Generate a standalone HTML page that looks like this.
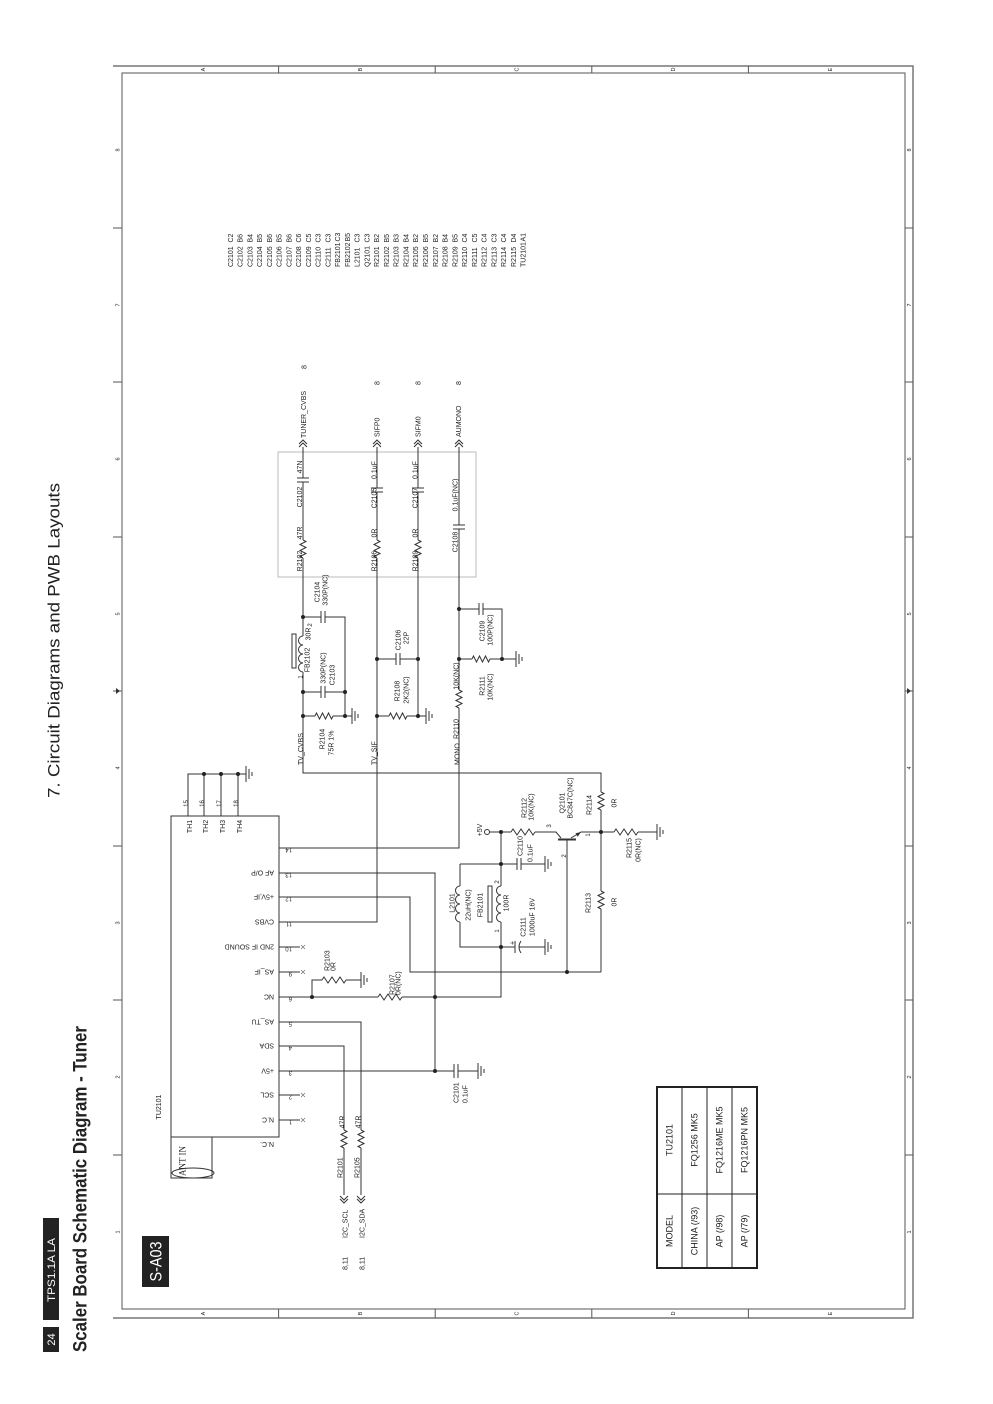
<!DOCTYPE html>
<html><head><meta charset="utf-8"><style>
html,body{margin:0;padding:0;background:#fff;}
svg{display:block;}
text{font-family:"Liberation Sans",Arial,sans-serif;fill:#222;}
.s7{font-size:7px;}
.s6{font-size:6px;}
.s5{font-size:5.5px;fill:#444;}
</style></head><body>
<svg width="993" height="1404" viewBox="0 0 993 1404" xmlns="http://www.w3.org/2000/svg">
<rect width="993" height="1404" fill="#fff"/>

<!-- FRAME -->
<g fill="none" stroke="#555" stroke-width="1">
<path d="M113,66H913V1318H113" stroke="#777" stroke-width="1.5"/>
<path d="M122,73H905V1309H122Z"/>
<path d="M278.6,66V73M435.2,66V73M591.8,66V73M748.4,66V73M278.6,1309V1318M435.2,1309V1318M591.8,1309V1318M748.4,1309V1318"/>
<path d="M113,228H122M113,382H122M113,537H122M113,691H122M113,846H122M113,1000H122M113,1155H122"/>
<path d="M905,228H913M905,382H913M905,537H913M905,691H913M905,846H913M905,1000H913M905,1155H913"/>
</g>
<polygon points="116,688 120,691 116,694" fill="#333"/>
<polygon points="907,688 911,691 907,694" fill="#333"/>

<!-- dashed box -->
<rect x="278" y="452" width="198" height="125" fill="none" stroke="#bbb" stroke-width="1"/>

<!-- TU2101 box -->
<g fill="none" stroke="#333" stroke-width="1">
<rect x="171" y="816" width="108" height="321"/>
<rect x="171" y="1137" width="41" height="41"/>
<ellipse cx="193" cy="1173" rx="21" ry="5"/>
</g>

<!-- WIRES -->
<g fill="none" stroke="#333" stroke-width="1">
<path d="M303,447V478M297,478H309M297,482H309M303,482V540"/>
<path d="M303,540l3,1.5l-6,3l6,3l-6,3l6,3l-6,3l3,1.5"/>
<path d="M303,558V636"/>
<path d="M303,636a4.5,4.5 0 0 0 0,9a4.5,4.5 0 0 0 0,9a4.5,4.5 0 0 0 0,9a4.5,4.5 0 0 0 0,9"/>
<path d="M303,672V773H601V792"/>
<path d="M601,792l3,1.5l-6,3l6,3l-6,3l6,3l-6,3l3,1.5"/>
<path d="M601,810V891"/>
<path d="M601,891l3,1.5l-6,3l6,3l-6,3l6,3l-6,3l3,1.5"/>
<path d="M601,909V972"/>
<path d="M377,447V488M371,488H383M371,492H383M377,492V540"/>
<path d="M377,540l3,1.5l-6,3l6,3l-6,3l6,3l-6,3l3,1.5"/>
<path d="M377,558V922H279"/>
<path d="M418,447V488M412,488H424M412,492H424M418,492V540"/>
<path d="M418,540l3,1.5l-6,3l6,3l-6,3l6,3l-6,3l3,1.5"/>
<path d="M418,558V716"/>
<path d="M459,447V525M453,525H465M453,529H465M459,529V690"/>
<path d="M459,690l3,1.5l-6,3l6,3l-6,3l6,3l-6,3l3,1.5"/>
<path d="M459,708V848H279"/>
<path d="M299,447L303,443L307,447M299,444L303,440L307,444"/>
<path d="M373,447L377,443L381,447M373,444L377,440L381,444"/>
<path d="M414,447L418,443L422,447M414,444L418,440L422,444"/>
<path d="M455,447L459,443L463,447M455,444L459,440L463,444"/>
<path d="M303,617H321M321,611V623M325,611V623M325,617H345V716"/>
<path d="M303,692H321M321,686V698M325,686V698M325,692H345"/>
<path d="M303,716H315"/>
<path d="M315,716l1.5,-3l3,6l3,-6l3,6l3,-6l3,6l1.5,-3"/>
<path d="M333,716H352"/>
<path d="M377,659H396M396,653V665M400,653V665M400,659H418"/>
<path d="M377,716H389"/>
<path d="M389,716l1.5,-3l3,6l3,-6l3,6l3,-6l3,6l1.5,-3"/>
<path d="M407,716H426"/>
<path d="M459,609H479M479,603V615M483,603V615M483,609H502V659"/>
<path d="M459,659H472"/>
<path d="M472,659l1.5,-3l3,6l3,-6l3,6l3,-6l3,6l1.5,-3"/>
<path d="M490,659H516"/>
<path d="M279,873H435V1071"/>
<path d="M279,897H410V972H601"/>
<path d="M279,947H300M279,972H300M279,1095H300M279,1120H300"/>
<path d="M279,997H378"/>
<path d="M378,997l2,-3l4,6l4,-6l4,6l4,-6l4,6l2,-3"/>
<path d="M402,997H501V922"/>
<path d="M312,997V980H322"/>
<path d="M322,980l2,-3l4,6l4,-6l4,6l4,-6l4,6l2,-3"/>
<path d="M346,980H361"/>
<path d="M279,1022H361V1130"/>
<path d="M361,1130l3,1.5l-6,3l6,3l-6,3l6,3l-6,3l3,1.5"/>
<path d="M361,1148V1195"/>
<path d="M279,1046H344V1130"/>
<path d="M344,1130l3,1.5l-6,3l6,3l-6,3l6,3l-6,3l3,1.5"/>
<path d="M344,1148V1195"/>
<path d="M340,1196L344,1200L348,1196M340,1199L344,1203L348,1199"/>
<path d="M357,1196L361,1200L365,1196M357,1199L361,1203L365,1199"/>
<path d="M279,1071H454M454,1064V1078M458,1064V1078M458,1071H478"/>
<path d="M489.5,832H511"/>
<path d="M511,832l2,-3l4,6l4,-6l4,6l4,-6l4,6l2,-3"/>
<path d="M535,832H556L561,838"/>
<path d="M558,839.5H576" stroke-width="2"/>
<path d="M571,838L581,832H614"/>
<path d="M614,832l2,-3l4,6l4,-6l4,6l4,-6l4,6l2,-3"/>
<path d="M638,832H657"/>
<path d="M567,840V972"/>
<path d="M501,832V886"/>
<path d="M501,886a4.5,4.5 0 0 0 0,9a4.5,4.5 0 0 0 0,9a4.5,4.5 0 0 0 0,9a4.5,4.5 0 0 0 0,9"/>
<path d="M460,864H517M517,858V870M521,858V870M521,864H545"/>
<path d="M460,864V886"/>
<path d="M460,886a4.5,4.5 0 0 0 0,9a4.5,4.5 0 0 0 0,9a4.5,4.5 0 0 0 0,9a4.5,4.5 0 0 0 0,9"/>
<path d="M460,922V947H515M515,941V953M521,941Q517,947 521,953M519,947H545"/>
<path d="M188,816V774H246M204,816V774M221,816V774M238,816V774"/>
<path d="M246,766V782M249,769V779M252,772V776"/>
<path d="M352,708V724M355,711V721M358,714V718"/>
<path d="M426,708V724M429,711V721M432,714V718"/>
<path d="M516,651V667M519,654V664M522,657V661"/>
<path d="M361,972V988M364,975V985M367,978V982"/>
<path d="M478,1063V1079M481,1066V1076M484,1069V1073"/>
<path d="M545,856V872M548,859V869M551,862V866"/>
<path d="M545,939V955M548,942V952M551,945V949"/>
<path d="M657,824V840M660,827V837M663,830V834"/>
</g>
<g fill="none" stroke="#666" stroke-width="0.6">
<path d="M301,945l4,4M301,949l4,-4M301,970l4,4M301,974l4,-4M301,1093l4,4M301,1097l4,-4M301,1118l4,4M301,1122l4,-4"/>
</g>
<polygon points="581,832 575.5,833.2 577.7,836.8" fill="#333"/>
<circle cx="487" cy="832" r="2.5" fill="#fff" stroke="#333" stroke-width="1"/>
<rect x="292" y="634" width="4" height="34" fill="#fff" stroke="#333" stroke-width="1"/>
<rect x="488" y="886" width="4" height="36" fill="#fff" stroke="#333" stroke-width="1"/>

<g fill="#222">
<circle cx="303" cy="617" r="2"/><circle cx="303" cy="692" r="2"/><circle cx="345" cy="692" r="2"/>
<circle cx="303" cy="716" r="2"/><circle cx="345" cy="716" r="2"/>
<circle cx="377" cy="659" r="2"/><circle cx="418" cy="659" r="2"/>
<circle cx="377" cy="716" r="2"/><circle cx="418" cy="716" r="2"/>
<circle cx="459" cy="609" r="2"/><circle cx="459" cy="659" r="2"/><circle cx="502" cy="659" r="2"/>
<circle cx="204" cy="774" r="2"/><circle cx="221" cy="774" r="2"/><circle cx="238" cy="774" r="2"/>
<circle cx="312" cy="997" r="2"/><circle cx="435" cy="997" r="2"/><circle cx="435" cy="1071" r="2"/>
<circle cx="501" cy="832" r="2"/><circle cx="501" cy="864" r="2"/><circle cx="501" cy="947" r="2"/>
<circle cx="601" cy="832" r="2"/><circle cx="567" cy="972" r="2"/>
</g>

<g fill="none" stroke="#222">
<rect x="657" y="1087" width="100" height="181" stroke-width="2"/>
<path d="M682,1087V1268M707,1087V1268M732,1087V1268M657,1194H757" stroke-width="1"/>
</g>

<rect x="43" y="1327" width="16" height="25" fill="#222"/>
<rect x="43" y="1218" width="16" height="102" fill="#222"/>
<rect x="142" y="1236" width="27" height="51" fill="#222"/>

<g transform="rotate(-90)">
<text x="-1339.5" y="55" font-size="11" text-anchor="middle" style="fill:#fff">24</text>
<text x="-1270" y="55" font-size="11" text-anchor="middle" textLength="64" lengthAdjust="spacingAndGlyphs" style="fill:#fff">TPS1.1A LA</text>
<text x="-1352" y="86.5" font-size="19" font-weight="bold" textLength="326" lengthAdjust="spacingAndGlyphs">Scaler Board Schematic Diagram - Tuner</text>
<text x="-798" y="59.5" font-size="17" textLength="315" lengthAdjust="spacingAndGlyphs">7. Circuit Diagrams and PWB Layouts</text>
<text x="-1261.5" y="161.5" font-size="17" text-anchor="middle" textLength="40" lengthAdjust="spacingAndGlyphs" style="fill:#fff">S-A03</text>

<g class="s5" text-anchor="middle">
<text x="-69.5" y="205">A</text><text x="-69.5" y="362">B</text><text x="-69.5" y="518.5">C</text><text x="-69.5" y="675">D</text><text x="-69.5" y="832">E</text>
<text x="-1313.5" y="205">A</text><text x="-1313.5" y="362">B</text><text x="-1313.5" y="518.5">C</text><text x="-1313.5" y="675">D</text><text x="-1313.5" y="832">E</text>
<text x="-150" y="119.5">8</text><text x="-305" y="119.5">7</text><text x="-459" y="119.5">6</text><text x="-614" y="119.5">5</text><text x="-768" y="119.5">4</text><text x="-923" y="119.5">3</text><text x="-1077" y="119.5">2</text><text x="-1232" y="119.5">1</text>
<text x="-150" y="911">8</text><text x="-305" y="911">7</text><text x="-459" y="911">6</text><text x="-614" y="911">5</text><text x="-768" y="911">4</text><text x="-923" y="911">3</text><text x="-1077" y="911">2</text><text x="-1232" y="911">1</text>
</g>

<g class="s7">
<text x="-267" y="232.8">C2101</text><text x="-242.5" y="232.8">C2</text>
<text x="-267" y="242.6">C2102</text><text x="-242.5" y="242.6">B6</text>
<text x="-267" y="252.3">C2103</text><text x="-242.5" y="252.3">B4</text>
<text x="-267" y="262.1">C2104</text><text x="-242.5" y="262.1">B5</text>
<text x="-267" y="271.8">C2105</text><text x="-242.5" y="271.8">B6</text>
<text x="-267" y="281.6">C2106</text><text x="-242.5" y="281.6">B5</text>
<text x="-267" y="291.4">C2107</text><text x="-242.5" y="291.4">B6</text>
<text x="-267" y="301.1">C2108</text><text x="-242.5" y="301.1">C6</text>
<text x="-267" y="310.9">C2109</text><text x="-242.5" y="310.9">C5</text>
<text x="-267" y="320.6">C2110</text><text x="-242.5" y="320.6">C3</text>
<text x="-267" y="330.4">C2111</text><text x="-242.5" y="330.4">C3</text>
<text x="-267" y="340.2">FB2101</text><text x="-241.5" y="340.2">C3</text>
<text x="-267" y="349.9">FB2102</text><text x="-241.5" y="349.9">B5</text>
<text x="-267" y="359.7">L2101</text><text x="-242.5" y="359.7">C3</text>
<text x="-267" y="369.4">Q2101</text><text x="-242.5" y="369.4">C3</text>
<text x="-267" y="379.2">R2101</text><text x="-242.5" y="379.2">B2</text>
<text x="-267" y="389.0">R2102</text><text x="-242.5" y="389.0">B5</text>
<text x="-267" y="398.7">R2103</text><text x="-242.5" y="398.7">B3</text>
<text x="-267" y="408.5">R2104</text><text x="-242.5" y="408.5">B4</text>
<text x="-267" y="418.2">R2105</text><text x="-242.5" y="418.2">B2</text>
<text x="-267" y="428.0">R2106</text><text x="-242.5" y="428.0">B5</text>
<text x="-267" y="437.8">R2107</text><text x="-242.5" y="437.8">B2</text>
<text x="-267" y="447.5">R2108</text><text x="-242.5" y="447.5">B4</text>
<text x="-267" y="457.3">R2109</text><text x="-242.5" y="457.3">B5</text>
<text x="-267" y="467.0">R2110</text><text x="-242.5" y="467.0">C4</text>
<text x="-267" y="476.8">R2111</text><text x="-242.5" y="476.8">C5</text>
<text x="-267" y="486.6">R2112</text><text x="-242.5" y="486.6">C4</text>
<text x="-267" y="496.3">R2113</text><text x="-242.5" y="496.3">C3</text>
<text x="-267" y="506.1">R2114</text><text x="-242.5" y="506.1">C4</text>
<text x="-267" y="515.8">R2115</text><text x="-242.5" y="515.8">D4</text>
<text x="-267" y="525.6">TU2101</text><text x="-241.5" y="525.6">A1</text>
</g>

<g class="s7" text-anchor="middle">
<text x="-367" y="306.5">8</text><text x="-383" y="379.5">8</text><text x="-383" y="420.5">8</text><text x="-383" y="461">8</text>
<text x="-467" y="302">47N</text><text x="-497" y="302">C2102</text><text x="-533" y="302">47R</text><text x="-561" y="302">R2102</text>
<text x="-470" y="376.5">0.1uF</text><text x="-498" y="376.5">C2105</text><text x="-533" y="376.5">0R</text><text x="-561" y="376.5">R2106</text>
<text x="-470" y="417.5">0.1uF</text><text x="-498" y="417.5">C2107</text><text x="-533" y="417.5">0R</text><text x="-561" y="417.5">R2109</text>
<text x="-495" y="457.5">0.1uF(NC)</text><text x="-542" y="457.5">C2108</text>
<text x="-592" y="319.5">C2104</text><text x="-590" y="327.5">330P(NC)</text>
<text x="-634" y="310.5">30R</text><text x="-660" y="309.5">FB2102</text>
<text x="-668" y="325.5">330P(NC)</text><text x="-675" y="334.5">C2103</text>
<text x="-739" y="324.5">R2104</text><text x="-743" y="333.5">75R 1%</text>
<text x="-640" y="400.5">C2106</text><text x="-638" y="408.5">22P</text>
<text x="-691" y="399.5">R2108</text><text x="-690" y="408.5">2K2(NC)</text>
<text x="-631" y="484.5">C2109</text><text x="-630" y="492.5">100P(NC)</text>
<text x="-686" y="484.5">R2111</text><text x="-687" y="492.5">10K(NC)</text>
<text x="-676" y="458.5">10K(NC)</text><text x="-729" y="458.5">R2110</text>
<text x="-830" y="482">+5V</text>
<text x="-808" y="526.5">R2112</text><text x="-807" y="533.5">10K(NC)</text>
<text x="-803" y="564.5">Q2101</text><text x="-798" y="572.5">BC847C(NC)</text>
<text x="-805" y="591.5">R2114</text><text x="-803" y="616.5">0R</text>
<text x="-846" y="522.5">C2110</text><text x="-853" y="532.5">0.1uF</text>
<text x="-903" y="454.5">L2101</text><text x="-905" y="470.5">22uH(NC)</text>
<text x="-905" y="482.5">FB2101</text><text x="-903" y="508.5">100R</text>
<text x="-927" y="525.5">C2111</text><text x="-917" y="534.5">1000uF 16V</text>
<text x="-943" y="514.5">+</text>
<text x="-903" y="590.5">R2113</text><text x="-902" y="616.5">0R</text>
<text x="-848" y="631.5">R2115</text><text x="-850" y="640.5">0R(NC)</text>
<text x="-1122" y="344.5">47R</text><text x="-1122" y="360.5">47R</text>
<text x="-1107" y="161">TU2101</text>
<text x="-826.5" y="192">TH1</text><text x="-826.5" y="208">TH2</text><text x="-826.5" y="225">TH3</text><text x="-826.5" y="242">TH4</text>
</g>
<g class="s6" text-anchor="middle">
<text x="-625" y="312">2</text><text x="-677" y="302.5">1</text>
<text x="-826" y="551">3</text><text x="-835" y="590">1</text><text x="-856" y="566">2</text>
<text x="-882" y="499">2</text><text x="-931" y="499">1</text>
<text x="-803.5" y="188">15</text><text x="-803.5" y="204">16</text><text x="-803.5" y="221">17</text><text x="-803.5" y="238">18</text>
</g>
<g class="s7">
<text x="-438" y="306">TUNER_CVBS</text>
<text x="-437" y="379.5">SIFP0</text><text x="-437" y="420.5">SIFM0</text><text x="-437" y="461">AUMONO</text>
<text x="-765" y="303">TV_CVBS</text><text x="-765" y="376.5">TV_SIF</text><text x="-765" y="459.5">MONO</text>
<text x="-971" y="329.5">R2103</text><text x="-971" y="335.5">0R</text>
<text x="-995" y="394.5">R2107</text><text x="-995" y="400.5">0R(NC)</text>
<text x="-1103" y="458.5">C2101</text><text x="-1103" y="467.5">0.1uF</text>
<text x="-1178" y="342.5">R2101</text><text x="-1178" y="359.5">R2105</text>
<text x="-1238" y="347.5">I2C_SCL</text><text x="-1238" y="364.5">I2C_SDA</text>
<text x="-1270" y="347.5">8,11</text><text x="-1270" y="364.5">8,11</text>
</g>
<text x="-1161" y="185.5" font-size="9" text-anchor="middle" style="font-family:'Liberation Serif',serif">ANT IN</text>

<g font-size="9" text-anchor="middle">
<text x="-1140" y="672.7">TU2101</text><text x="-1231" y="672.7">MODEL</text>
<text x="-1140" y="697.7">FQ1256 MK5</text><text x="-1231" y="697.7">CHINA (/93)</text>
<text x="-1140" y="722.7">FQ1216ME MK5</text><text x="-1231" y="722.7">AP (/98)</text>
<text x="-1140" y="747.7">FQ1216PN MK5</text><text x="-1231" y="747.7">AP (/79)</text>
</g>
</g>

<g transform="rotate(180)">
<g class="s7">
<text x="-274" y="-1117.5">N.C</text>
<text x="-274" y="-1092.5">SCL</text>
<text x="-274" y="-1068.5">+5V</text>
<text x="-274" y="-1043.5">SDA</text>
<text x="-274" y="-1019.5">AS_TU</text>
<text x="-274" y="-994.5">NC</text>
<text x="-274" y="-969.5">AS_IF</text>
<text x="-274" y="-944.5">2ND IF SOUND</text>
<text x="-274" y="-919.5">CVBS</text>
<text x="-274" y="-894.5">+5V,IF</text>
<text x="-274" y="-870.5">AF O/P</text>
<text x="-274" y="-1142">N.C.</text>
</g>
<g class="s6">
<text x="-292" y="-848">14</text>
<text x="-292" y="-873">13</text>
<text x="-292" y="-897">12</text>
<text x="-292" y="-922">11</text>
<text x="-292" y="-947">10</text>
<text x="-292" y="-972">9</text>
<text x="-292" y="-997">6</text>
<text x="-292" y="-1022">5</text>
<text x="-292" y="-1046">4</text>
<text x="-292" y="-1071">3</text>
<text x="-292" y="-1095">2</text>
<text x="-292" y="-1120">1</text>
</g>
</g>
</svg>
</body></html>
